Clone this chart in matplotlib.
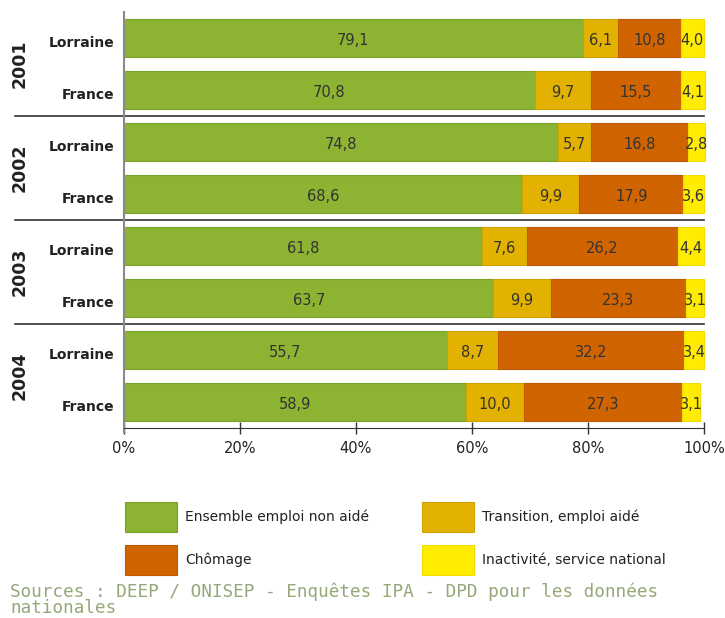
import matplotlib
matplotlib.use("Agg")
import matplotlib.pyplot as plt
from matplotlib.patches import Rectangle

# Insertion des jeunes : répartition par situation (%)
years = ["2001", "2002", "2003", "2004"]
regions = ["Lorraine", "France"]
emploi = [79.1, 70.8, 74.8, 68.6, 61.8, 63.7, 55.7, 58.9]
transition = [6.1, 9.7, 5.7, 9.9, 7.6, 9.9, 8.7, 10.0]
chomage = [10.8, 15.5, 16.8, 17.9, 26.2, 23.3, 32.2, 27.3]
inactivite = [4.0, 4.1, 2.8, 3.6, 4.4, 3.1, 3.4, 3.1]

series_names = ["Ensemble emploi non aidé", "Transition, emploi aidé",
                "Chômage", "Inactivité, service national"]
colors = ["#8db332", "#e3b100", "#d06400", "#ffec00"]
edges = ["#7aa02a", "#d0a200", "#c05a00", "#f2dd00"]
xticks = [0, 20, 40, 60, 80, 100]
source_text = ("Sources : DEEP / ONISEP - Enquêtes IPA - DPD pour les données\n"
               "nationales")

W, H = 725, 618
fig = plt.figure(figsize=(W / 100, H / 100), dpi=100)
ax = fig.add_axes([124 / W, 1 - 428 / H, 580 / W, 416 / H])

n = len(years) * len(regions)
ypos = [i + 0.5 for i in range(n)]
left = [0.0] * n
for vals, c, ec in zip([emploi, transition, chomage, inactivite], colors, edges):
    ax.barh(ypos, vals, left=left, height=0.73, color=c, edgecolor=ec,
            linewidth=0.8, clip_on=False)
    for y, l, v in zip(ypos, left, vals):
        ax.text(l + v / 2, y + 0.04, f"{v:.1f}".replace(".", ","), ha="center",
                va="center", fontsize=10.5, color="#333333")
    left = [l + v for l, v in zip(left, vals)]

ax.set_xlim(0, 100)
ax.set_ylim(n, 0)
ax.set_yticks([])
ax.set_xticks(xticks)
ax.set_xticklabels([f"{t}%" for t in xticks], fontsize=10.5, color="#222222")
ax.tick_params(axis="x", direction="inout", length=9, width=1, color="#333333", pad=5)

for s in ["top", "right"]:
    ax.spines[s].set_visible(False)
ax.spines["bottom"].set_color("#333333")
ax.spines["left"].set_color("#8a8a8a")
ax.spines["left"].set_linewidth(1.5)
ax.spines["left"].set_bounds(0, n + 0.08)

# region labels and year groups
trans = ax.get_yaxis_transform()
for i, y in enumerate(ypos):
    ax.text(-10 / 580, y + 0.1, regions[i % 2], transform=trans, ha="right",
            va="center", fontsize=10, fontweight="bold", color="#222222")
for g, yr in enumerate(years):
    ax.text(-104 / 580, 2 * g + 1, yr, transform=trans, ha="center", va="center",
            rotation=90, fontsize=12.5, fontweight="bold", color="#222222")
    if g > 0:
        ax.plot([-109 / 580, 1.0], [2 * g, 2 * g], transform=trans, color="#333333",
                lw=1.2, clip_on=False)

# legend
swatches = [(125, 502), (422, 502), (125, 545), (422, 545)]
for (x, y), name, c, ec in zip(swatches, series_names, colors, edges):
    fig.add_artist(Rectangle((x / W, 1 - (y + 30) / H), 52 / W, 30 / H,
                             facecolor=c, edgecolor=ec, lw=0.8, transform=fig.transFigure))
    fig.text((x + 60) / W, 1 - (y + 15) / H, name, ha="left", va="center",
             fontsize=10, color="#222222")

fig.text(10 / W, 1 / H, source_text, ha="left", va="bottom",
         family="DejaVu Sans Mono", fontsize=12.7, color="#96a87a", linespacing=0.88)

fig.savefig("out.png", dpi=100)
